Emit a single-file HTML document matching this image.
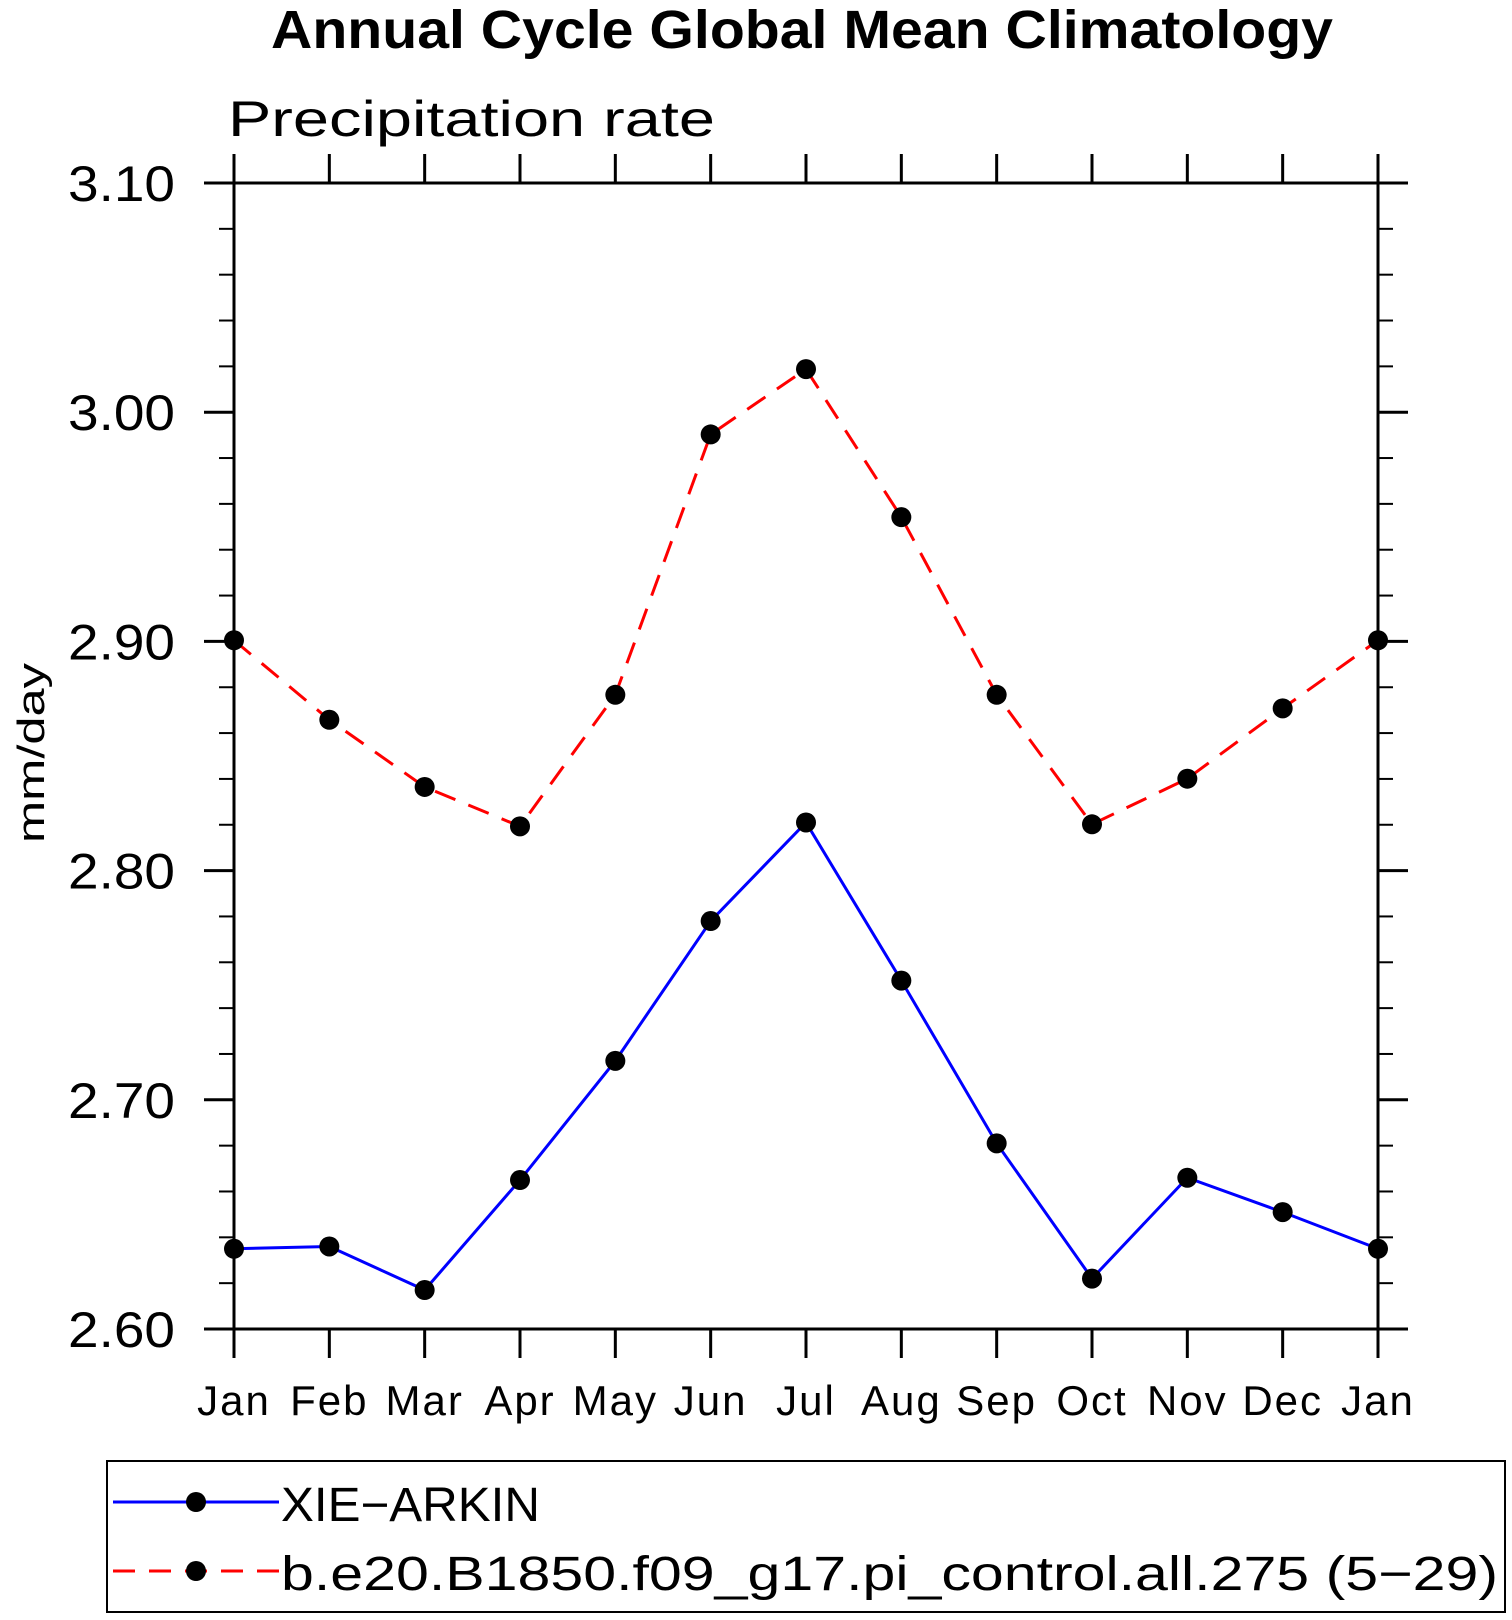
<!DOCTYPE html>
<html><head><meta charset="utf-8">
<style>
html,body{margin:0;padding:0;background:#fff;}
svg{display:block;font-family:"Liberation Sans",sans-serif;}
</style></head>
<body>
<svg id="chart" width="1512" height="1620" viewBox="0 0 1512 1620">
<text x="802" y="48" text-anchor="middle" font-size="54" font-weight="bold" textLength="1062" lengthAdjust="spacingAndGlyphs">Annual Cycle Global Mean Climatology</text>
<text x="228" y="136" font-size="50" textLength="487" lengthAdjust="spacingAndGlyphs">Precipitation rate</text>
<text transform="translate(44,753) rotate(-90)" text-anchor="middle" font-size="38" textLength="180" lengthAdjust="spacingAndGlyphs">mm/day</text>
<g id="axes"></g>
<g id="series"></g>
<g>
<rect x="107" y="1461" width="1398" height="151" fill="none" stroke="#000" stroke-width="2"/>
<g>
<line x1="113" y1="1502" x2="279" y2="1502" stroke="#0000ff" stroke-width="3"/>
<circle cx="196" cy="1502" r="10"/>
<text x="281" y="1521" font-size="48" textLength="259" lengthAdjust="spacingAndGlyphs">XIE−ARKIN</text>
</g>
<g>
<line x1="113" y1="1571" x2="279" y2="1571" stroke="#ff0000" stroke-width="3" stroke-dasharray="22,14"/>
<circle cx="196" cy="1571" r="10"/>
<text x="281" y="1590" font-size="48" textLength="1217" lengthAdjust="spacingAndGlyphs">b.e20.B1850.f09_g17.pi_control.all.275 (5−29)</text>
</g>
</g>
</svg>
<script>
const months = ["Jan","Feb","Mar","Apr","May","Jun","Jul","Aug","Sep","Oct","Nov","Dec","Jan"];
const obsValues = [2.635,2.636,2.617,2.665,2.717,2.778,2.821,2.752,2.681,2.622,2.666,2.651,2.635];
const modelValues = [2.9005,2.8658,2.8365,2.8193,2.8767,2.9903,3.0188,2.9542,2.8767,2.8202,2.8401,2.8708,2.9005];
const yTickValues = [2.6,2.7,2.8,2.9,3.0,3.1];
const yTickLabels = ["2.60","2.70","2.80","2.90","3.00","3.10"];

const L=234,R=1378,T=183,B=1329,yMin=2.6,yMax=3.1;
const xs=i=>L+(R-L)*i/(months.length-1);
const ys=v=>B-(B-T)*(v-yMin)/(yMax-yMin);
const NS="http://www.w3.org/2000/svg";
function mk(tag,attrs,parent){const e=document.createElementNS(NS,tag);for(const k in attrs)e.setAttribute(k,attrs[k]);parent.appendChild(e);return e;}
const ax=document.getElementById('axes');
const frame=mk('rect',{x:L,y:T,width:R-L,height:B-T,fill:'none',stroke:'#000','stroke-width':3},ax);


months.forEach((m,i)=>{
  const x=xs(i);
  mk('line',{x1:x,y1:B,x2:x,y2:B+29,stroke:'#000','stroke-width':3},ax);
  mk('line',{x1:x,y1:T,x2:x,y2:T-29,stroke:'#000','stroke-width':3},ax);
  const t=mk('text',{x:x,y:1415,'text-anchor':'middle','font-size':42,'letter-spacing':2},ax);
  t.textContent=m;
  
  
});
for(let k=0;k<=25;k++){
  const v=yMin+k*0.02, y=ys(v), major=k%5===0, len=major?30:15;
  mk('line',{x1:L,y1:y,x2:L-len,y2:y,stroke:'#000','stroke-width':major?3:2},ax);
  mk('line',{x1:R,y1:y,x2:R+len,y2:y,stroke:'#000','stroke-width':major?3:2},ax);
}
yTickValues.forEach((v,i)=>{
  const t=mk('text',{x:68,y:ys(v)+18,'font-size':50,textLength:107,lengthAdjust:'spacingAndGlyphs'},ax);
  t.textContent=yTickLabels[i];
  
  
});
const sg=document.getElementById('series');
function series(vals,color,dash,name){
  const g=mk('g',{},sg);
  
  
  const a={points:vals.map((v,i)=>xs(i)+','+ys(v)).join(' '),fill:'none',stroke:color,'stroke-width':3};
  if(dash)a['stroke-dasharray']=dash;
  mk('polyline',a,g);
  vals.forEach((v,i)=>{
    const c=mk('circle',{cx:xs(i),cy:ys(v),r:10,fill:'#000'},g);
    
    
  });
}
series(modelValues,'#ff0000','22,14','model-series');
series(obsValues,'#0000ff',null,'xie-arkin-series');
</script>
</body></html>
